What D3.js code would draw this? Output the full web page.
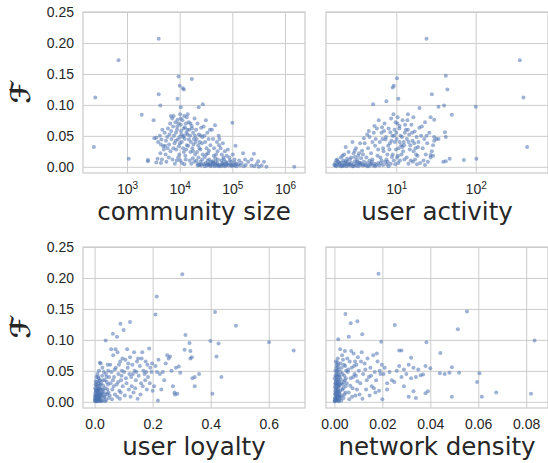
<!DOCTYPE html>
<html>
<head>
<meta charset="utf-8">
<script src="https://cdn.jsdelivr.net/npm/d3@7"></script>
<style>
  body { margin: 0; background: #fff; }
  svg { display: block; font-family: "DejaVu Sans", sans-serif; }
  .grid line { stroke: #cccccc; stroke-width: 1; }
  .grid text { fill: #262626; font-size: 14px; }
</style>
</head>
<body>
<svg id="chart" width="548" height="463"></svg>
<script>
// values: [x, F]
const sizePts = [
  [4000,0.207],[690,0.172],[250,0.112],[235,0.032],[1080,0.013],[1900,0.084],[3200,0.075],[4000,0.117],[4300,0.099],
  [9500,0.146],[17000,0.142],[10000,0.131],[11500,0.127],[12000,0.125],[9100,0.110],[10500,0.096],[23000,0.096],[27500,0.101],
  [100000,0.071],[115000,0.034],[160000,0.022],[257000,0.021],[232000,0.012],[310000,0.009],[400000,0.008],[1500000,0.0],[445000,0.0],
  [2500,0.011],[2500,0.009],[3600,0.007],[4400,0.006],
  [3300,0.046],[3600,0.047],[3900,0.040],[4200,0.050],[4500,0.044],[3800,0.013],[4600,0.012],[4300,0.022],[4900,0.033],[4700,0.060],[5000,0.028],[4400,0.036],
  [5200,0.055],[5500,0.042],[5800,0.048],[6000,0.062],[6300,0.036],[6600,0.070],[5400,0.020],[5900,0.030],[6400,0.052],[6800,0.082],[7000,0.045],[5600,0.008],[6200,0.015],[6700,0.025],[5300,0.034],[6900,0.058],
  [7200,0.078],[7500,0.065],[7800,0.050],[8000,0.038],[8300,0.072],[8600,0.028],[8900,0.060],[9200,0.044],[9500,0.070],[9800,0.020],[7300,0.012],[8100,0.005],[8800,0.010],[9600,0.033],[7700,0.082],[8500,0.055],[9100,0.076],[9900,0.048],[7600,0.030],[9400,0.015],[8400,0.042],
  [10200,0.085],[10500,0.068],[10800,0.052],[11000,0.040],[11300,0.075],[11600,0.030],[11900,0.062],[12200,0.082],[12500,0.045],[12800,0.018],[13100,0.070],[13400,0.055],[13700,0.035],[10300,0.010],[11100,0.006],[12000,0.024],[13000,0.012],[13600,0.080],[10700,0.058],[12600,0.064],[11500,0.048],[13300,0.028],[10100,0.038],[12300,0.004],
  [14200,0.085],[14800,0.072],[15200,0.060],[15800,0.050],[16300,0.040],[16900,0.066],[17400,0.030],[18000,0.055],[18600,0.045],[19200,0.078],[19700,0.020],[14500,0.034],[15500,0.010],[16600,0.005],[17700,0.014],[18900,0.008],[14100,0.052],[16000,0.024],[17200,0.062],[18300,0.036],[19500,0.050],[15000,0.044],
  [20500,0.060],[21000,0.045],[21800,0.070],[22500,0.035],[23200,0.052],[24000,0.040],[24800,0.028],[25600,0.063],[26500,0.038],[27300,0.020],[20800,0.010],[22000,0.005],[23500,0.003],[25000,0.008],[26800,0.012],[21400,0.024],[23800,0.030],[27000,0.048],[22800,0.015],[25300,0.002],
  [28500,0.065],[29500,0.050],[30500,0.040],[31500,0.075],[32500,0.030],[33500,0.055],[34500,0.022],[35500,0.045],[36500,0.012],[37500,0.060],[38500,0.035],[39500,0.008],[29000,0.004],[31000,0.006],[33000,0.002],[35000,0.003],[37000,0.005],[39000,0.001],[30000,0.016],[34000,0.010],[36000,0.026],[32000,0.020],
  [41000,0.060],[43000,0.045],[45000,0.030],[47000,0.067],[49000,0.020],[51000,0.040],[53000,0.012],[55000,0.050],[42000,0.003],[44000,0.005],[46000,0.001],[48000,0.004],[50000,0.002],[52000,0.006],[54000,0.003],[42500,0.009],[47500,0.014],[52500,0.025],[56000,0.035],[44500,0.018],
  [57000,0.045],[60000,0.030],[63000,0.020],[66000,0.038],[69000,0.012],[72000,0.025],[75000,0.008],[78000,0.018],[58000,0.003],[61000,0.001],[64000,0.004],[67000,0.002],[70000,0.005],[73000,0.001],[76000,0.003],[79000,0.006],[62000,0.010],[68000,0.015],
  [82000,0.028],[88000,0.015],[95000,0.008],[102000,0.020],[110000,0.012],[118000,0.005],[85000,0.002],[92000,0.004],[98000,0.001],[105000,0.003],[112000,0.002],[120000,0.001],[90000,0.010],
  [130000,0.004],[140000,0.002],[150000,0.006],[165000,0.001],[180000,0.003],[200000,0.008],[230000,0.002],[260000,0.001],[290000,0.004],[320000,0.0],[360000,0.002],[135000,0.010],[175000,0.012],
  [30000,0.001],[34000,0.005],[38000,0.003],[43000,0.007],[48000,0.008],[55000,0.001],[65000,0.006],[80000,0.004],[95000,0.003],[110000,0.007],
  [26000,0.004],[22000,0.002],[12000,0.050],[14000,0.060],[16000,0.070],[20000,0.040],[25000,0.050],[10500,0.078],[9000,0.065],[18000,0.025]
];

const activityPts = [
  [24,0.207],[360,0.172],[400,0.112],[445,0.032],[42,0.147],[10.2,0.143],[9.3,0.131],[9.0,0.128],[44,0.125],[28,0.117],[7.5,0.106],
  [10.6,0.110],[5.1,0.101],[100,0.097],[34,0.097],[40,0.099],[19.6,0.095],[50,0.084],[27,0.080],[30,0.076],[41,0.056],[42,0.048],
  [24,0.050],[30,0.048],[27,0.019],[29,0.018],[47,0.013],[71,0.011],[102,0.013],[39,0.008],[42,0.009],[23,0.003],[20,0.006],
  [1.65,0.003],[1.7,0.006],[1.75,0.001],[1.8,0.004],[1.85,0.008],[1.9,0.002],[1.95,0.005],[2.0,0.001],[2.05,0.007],[2.1,0.003],[2.15,0.010],[2.2,0.002],[2.25,0.006],[2.3,0.004],[2.35,0.001],[2.4,0.008],[2.45,0.003],[2.5,0.005],[1.8,0.012],[2.0,0.015],[2.2,0.020],[2.4,0.013],[2.3,0.032],[2.1,0.018],[2.5,0.024],
  [2.6,0.002],[2.7,0.006],[2.8,0.001],[2.9,0.004],[3.0,0.009],[3.1,0.002],[3.2,0.005],[3.3,0.001],[3.4,0.007],[3.5,0.003],[3.6,0.005],[3.8,0.002],[3.9,0.008],[2.7,0.015],[2.9,0.022],[3.1,0.030],[3.3,0.018],[3.5,0.038],[3.7,0.026],[3.9,0.046],[2.8,0.040],[3.2,0.012],[3.6,0.014],[3.0,0.026],[3.8,0.020],
  [4.1,0.003],[4.3,0.006],[4.5,0.001],[4.7,0.004],[4.9,0.008],[5.1,0.002],[5.3,0.005],[5.6,0.003],[5.9,0.006],[4.2,0.015],[4.4,0.030],[4.6,0.048],[4.8,0.022],[5.0,0.040],[5.2,0.055],[5.4,0.034],[5.7,0.062],[5.9,0.028],[4.5,0.058],[5.0,0.012],[5.5,0.045],[4.0,0.038],[5.8,0.018],[4.3,0.052],[5.3,0.066],
  [6.1,0.002],[6.4,0.006],[6.8,0.003],[7.2,0.008],[7.6,0.004],[8.0,0.001],[8.5,0.005],[6.2,0.040],[6.5,0.055],[6.8,0.030],[7.1,0.070],[7.4,0.048],[7.7,0.020],[8.0,0.062],[8.3,0.038],[8.6,0.078],[8.9,0.050],[6.3,0.015],[6.9,0.025],[7.5,0.012],[8.2,0.028],[8.8,0.016],[6.6,0.064],[7.3,0.044],[7.9,0.034],[8.4,0.056],[6.0,0.075],[7.0,0.058],[8.7,0.042],[6.7,0.045],
  [9.2,0.085],[9.5,0.060],[9.8,0.072],[10.1,0.045],[10.4,0.080],[10.7,0.030],[11.0,0.066],[11.3,0.050],[11.6,0.020],[12.0,0.075],[12.4,0.040],[12.8,0.055],[9.3,0.010],[9.7,0.004],[10.2,0.015],[10.6,0.006],[11.1,0.010],[11.5,0.035],[12.2,0.025],[12.6,0.012],[9.6,0.040],[10.0,0.055],[10.9,0.062],[11.8,0.048],[9.9,0.028],[10.3,0.070],[11.9,0.032],[12.9,0.068],
  [13.2,0.060],[13.6,0.045],[14.0,0.085],[14.5,0.052],[15.0,0.035],[15.5,0.068],[16.0,0.042],[16.5,0.025],[17.0,0.057],[17.5,0.030],[18.0,0.048],[18.5,0.018],[19.0,0.040],[19.5,0.063],[13.5,0.015],[14.2,0.005],[15.2,0.010],[16.2,0.008],[17.2,0.012],[18.2,0.004],[13.8,0.075],[14.8,0.028],[15.8,0.055],[16.8,0.038],[17.8,0.020],[14.3,0.040],[16.4,0.080],[18.8,0.032],
  [20.5,0.050],[21.5,0.030],[22.5,0.045],[23.5,0.020],[24.5,0.038],[26.0,0.055],[28.0,0.025],[30.0,0.042],[32.0,0.045],[21.0,0.065],[25.0,0.008],[27.0,0.015],[22.0,0.010],[23.0,0.072],[29.0,0.035],[34.0,0.045],
  [1.7,0.002],[1.9,0.007],[2.1,0.001],[2.3,0.009],[2.6,0.004],[2.9,0.001],[3.2,0.008],[3.5,0.006],[3.9,0.003],[4.3,0.001],[4.8,0.005],[5.4,0.001],
  [1.75,0.010],[2.6,0.012],[3.0,0.016],[3.4,0.022],[4.6,0.010],[6.5,0.010],[7.8,0.008],[9.0,0.020],[10.5,0.018],[12.5,0.035],[14.0,0.060],[11.0,0.040],[9.4,0.050]
];

const loyaltyPts = [
  [0.302,0.206],[0.214,0.170],[0.210,0.141],[0.415,0.145],[0.487,0.123],[0.122,0.129],[0.089,0.126],[0.10,0.116],[0.063,0.110],[0.313,0.108],
  [0.077,0.105],[0.038,0.099],[0.399,0.098],[0.601,0.096],[0.686,0.083],[0.427,0.094],[0.327,0.095],[0.42,0.073],[0.31,0.084],[0.33,0.082],
  [0.335,0.072],[0.33,0.070],[0.437,0.040],[0.36,0.045],[0.345,0.040],[0.337,0.038],[0.345,0.025],[0.406,0.013],[0.218,0.002],[0.277,0.012],
  [0.002,0.001],[0.004,0.004],[0.006,0.002],[0.008,0.007],[0.010,0.003],[0.012,0.010],[0.014,0.005],[0.016,0.001],[0.018,0.008],[0.020,0.012],[0.003,0.015],[0.005,0.020],[0.007,0.011],[0.009,0.025],[0.011,0.017],[0.013,0.030],[0.015,0.022],[0.017,0.014],[0.019,0.035],[0.001,0.008],[0.003,0.028],[0.006,0.040],[0.010,0.045],[0.014,0.038],[0.018,0.063],[0.002,0.012],[0.008,0.018],[0.012,0.006],[0.016,0.026],[0.020,0.002],[0.004,0.033],[0.015,0.050],
  [0.022,0.004],[0.025,0.010],[0.028,0.002],[0.031,0.016],[0.034,0.007],[0.037,0.022],[0.040,0.003],[0.043,0.013],[0.046,0.028],[0.049,0.006],[0.023,0.030],[0.026,0.042],[0.029,0.020],[0.032,0.048],[0.035,0.035],[0.038,0.012],[0.041,0.040],[0.044,0.020],[0.047,0.050],[0.024,0.015],[0.030,0.026],[0.036,0.001],[0.042,0.032],[0.048,0.015],[0.027,0.055],[0.033,0.008],[0.039,0.045],[0.045,0.060],[0.021,0.062],[0.050,0.040],
  [0.052,0.010],[0.055,0.030],[0.058,0.048],[0.061,0.020],[0.064,0.075],[0.067,0.040],[0.070,0.012],[0.073,0.055],[0.076,0.028],[0.079,0.080],[0.082,0.045],[0.085,0.018],[0.088,0.065],[0.091,0.035],[0.094,0.050],[0.097,0.025],[0.054,0.060],[0.060,0.004],[0.066,0.025],[0.072,0.085],[0.078,0.008],[0.084,0.060],[0.090,0.015],[0.096,0.070],[0.057,0.085],[0.069,0.052],[0.081,0.032],[0.093,0.042],[0.063,0.035],[0.087,0.005],
  [0.102,0.048],[0.106,0.068],[0.110,0.030],[0.114,0.055],[0.118,0.020],[0.122,0.072],[0.126,0.040],[0.130,0.060],[0.134,0.015],[0.138,0.050],[0.142,0.035],[0.146,0.065],[0.104,0.010],[0.112,0.085],[0.120,0.045],[0.128,0.025],[0.136,0.080],[0.144,0.048],[0.148,0.005],[0.108,0.038],[0.116,0.062],[0.124,0.008],[0.132,0.045],[0.140,0.022],[0.150,0.070],
  [0.152,0.042],[0.156,0.058],[0.160,0.030],[0.164,0.080],[0.168,0.050],[0.172,0.045],[0.176,0.065],[0.180,0.020],[0.184,0.040],[0.188,0.086],[0.192,0.055],[0.196,0.048],[0.158,0.012],[0.166,0.025],[0.174,0.035],[0.182,0.060],[0.190,0.030],[0.198,0.062],[0.162,0.070],[0.178,0.048],
  [0.205,0.025],[0.21,0.058],[0.215,0.048],[0.22,0.068],[0.225,0.045],[0.23,0.020],[0.24,0.035],[0.245,0.062],[0.25,0.075],[0.255,0.070],[0.26,0.073],[0.265,0.050],[0.27,0.025],[0.275,0.015],[0.28,0.055],[0.29,0.057],[0.295,0.047],[0.2,0.018],[0.235,0.048],[0.285,0.013],
  [0.001,0.002],[0.003,0.006],[0.005,0.009],[0.007,0.001],[0.009,0.013],[0.011,0.004],[0.013,0.019],[0.015,0.012],[0.017,0.006],[0.019,0.022],[0.021,0.009],[0.023,0.001],[0.025,0.020],[0.027,0.013],[0.029,0.035],
  [0.002,0.022],[0.004,0.018],[0.006,0.027],[0.008,0.032],[0.010,0.021],[0.012,0.040],[0.014,0.015],[0.016,0.034],[0.018,0.019],[0.020,0.028],[0.006,0.005],[0.010,0.009],[0.002,0.004],[0.008,0.001],[0.012,0.002]
];

const densityPts = [
  [0.0184,0.207],[0.0553,0.146],[0.0046,0.142],[0.0096,0.130],[0.0068,0.127],[0.0252,0.124],[0.0116,0.109],[0.0515,0.117],[0.006,0.105],
  [0.0016,0.101],[0.0195,0.097],[0.0384,0.096],[0.0835,0.099],[0.0442,0.079],[0.032,0.071],[0.028,0.083],[0.027,0.083],[0.049,0.056],
  [0.040,0.054],[0.044,0.046],[0.046,0.045],[0.048,0.047],[0.052,0.047],[0.0605,0.046],[0.0595,0.032],[0.049,0.008],[0.0615,0.008],
  [0.0675,0.015],[0.082,0.013],[0.038,0.014],[0.039,0.017],[0.033,0.017],[0.031,0.008],[0.034,0.006],[0.020,0.004],
  [0.0002,0.001],[0.0004,0.005],[0.0006,0.010],[0.0008,0.003],[0.0010,0.015],[0.0012,0.008],[0.0014,0.020],[0.0016,0.002],[0.0018,0.012],[0.0020,0.025],[0.0003,0.018],[0.0005,0.030],[0.0007,0.022],[0.0009,0.035],[0.0011,0.006],[0.0013,0.040],[0.0015,0.028],[0.0017,0.045],[0.0019,0.016],[0.0001,0.038],[0.0004,0.050],[0.0008,0.055],[0.0012,0.032],[0.0016,0.060],[0.0020,0.042],[0.0006,0.065],[0.0010,0.048],[0.0014,0.070],[0.0018,0.052],[0.0003,0.013],[0.0007,0.004],[0.0011,0.026],[0.0015,0.009],[0.0019,0.001],
  [0.0022,0.005],[0.0025,0.018],[0.0028,0.030],[0.0031,0.010],[0.0034,0.045],[0.0037,0.022],[0.0040,0.060],[0.0043,0.035],[0.0046,0.015],[0.0049,0.050],[0.0023,0.040],[0.0026,0.062],[0.0029,0.002],[0.0032,0.075],[0.0035,0.028],[0.0038,0.006],[0.0041,0.042],[0.0044,0.082],[0.0047,0.025],[0.0024,0.085],[0.0030,0.055],[0.0036,0.068],[0.0042,0.012],[0.0048,0.038],[0.0027,0.048],[0.0033,0.020],[0.0039,0.032],[0.0045,0.058],
  [0.0052,0.030],[0.0056,0.048],[0.0060,0.015],[0.0064,0.065],[0.0068,0.038],[0.0072,0.055],[0.0076,0.022],[0.0080,0.078],[0.0084,0.045],[0.0088,0.010],[0.0092,0.060],[0.0096,0.033],[0.0054,0.070],[0.0062,0.004],[0.0070,0.082],[0.0078,0.040],[0.0086,0.065],[0.0094,0.020],[0.0058,0.052],[0.0066,0.026],[0.0074,0.008],[0.0082,0.058],[0.0090,0.042],[0.0098,0.072],
  [0.0102,0.050],[0.0108,0.030],[0.0114,0.080],[0.0120,0.045],[0.0126,0.062],[0.0132,0.020],[0.0138,0.070],[0.0144,0.040],[0.0150,0.055],[0.0156,0.025],[0.0162,0.075],[0.0168,0.048],[0.0174,0.035],[0.0180,0.065],[0.0186,0.018],[0.0192,0.045],[0.0198,0.060],[0.0105,0.012],[0.0117,0.005],[0.0135,0.035],[0.0147,0.010],[0.0165,0.022],[0.0177,0.078],[0.0189,0.050],[0.0111,0.065],[0.0129,0.052],[0.0153,0.042],[0.0171,0.015],
  [0.0205,0.045],[0.021,0.055],[0.022,0.030],[0.023,0.048],[0.024,0.035],[0.026,0.050],[0.027,0.058],[0.028,0.040],[0.029,0.025],[0.030,0.045],[0.031,0.060],[0.033,0.055],[0.034,0.040],[0.035,0.052],[0.036,0.043],[0.037,0.044],[0.038,0.058],[0.025,0.032],[0.032,0.038],[0.022,0.020],[0.029,0.052],
  [0.0001,0.003],[0.0003,0.007],[0.0005,0.012],[0.0007,0.016],[0.0009,0.021],[0.0011,0.002],[0.0013,0.011],[0.0015,0.017],[0.0017,0.024],[0.0019,0.033],[0.0021,0.013],[0.0023,0.028],[0.0025,0.008],[0.0027,0.036],[0.0002,0.024],
  [0.0004,0.029],[0.0006,0.034],[0.0008,0.040],[0.0010,0.044],[0.0012,0.050],[0.0014,0.056],[0.0016,0.036],[0.0018,0.030],[0.0020,0.007],[0.0005,0.043],[0.0009,0.060],[0.0013,0.064],[0.0003,0.001],[0.0011,0.018],[0.0007,0.027]
];

const yTicks = [0, 0.05, 0.10, 0.15, 0.20, 0.25];
const sizeTicks = [1e3, 1e4, 1e5, 1e6];
const activityTicks = [1e1, 1e2];
const loyaltyTicks = [0.0, 0.2, 0.4, 0.6];
const densityTicks = [0.00, 0.02, 0.04, 0.06, 0.08];
const xLabels = ["community size", "user activity", "user loyalty", "network density"];

const svg = d3.select("#chart");
const colL = 83, colR = 326, w = 222;
const rowT = 12, rowB = 247, h = 161;

const panels = [
  {pts: sizePts, log: true, dom: [146, 2.4e6], ticks: sizeTicks, left: colL, top: rowT, label: xLabels[0], showY: true},
  {pts: activityPts, log: true, dom: [1.3, 815], ticks: activityTicks, left: colR, top: rowT, label: xLabels[1], showY: false},
  {pts: loyaltyPts, log: false, dom: [-0.04, 0.725], ticks: loyaltyTicks, fmt: d3.format(".1f"), left: colL, top: rowB, label: xLabels[2], showY: true},
  {pts: densityPts, log: false, dom: [-0.0035, 0.0891], ticks: densityTicks, fmt: d3.format(".2f"), left: colR, top: rowB, label: xLabels[3], showY: false}
];

panels.forEach(p => {
  const g = svg.append("g").attr("transform", "translate(" + p.left + "," + p.top + ")");
  const x = (p.log ? d3.scaleLog() : d3.scaleLinear()).domain(p.dom).range([0, w]);
  const y = d3.scaleLinear().domain([-0.01, 0.25]).range([h, 0]);

  const yAxis = d3.axisLeft(y).tickValues(yTicks).tickSize(-w).tickPadding(9)
    .tickFormat(p.showY ? d3.format(".2f") : "");
  g.append("g").attr("class", "grid").call(yAxis);

  const xAxis = d3.axisBottom(x).tickValues(p.ticks).tickSize(-h).tickPadding(p.log ? 11 : 11);
  const xg = g.append("g").attr("class", "grid").attr("transform", "translate(0," + h + ")").call(xAxis);
  if (p.log) {
    xg.selectAll(".tick text").each(function(d) {
      const e = Math.round(Math.log10(d));
      const t = d3.select(this).text("10");
      t.append("tspan").attr("dy", "-0.45em").style("font-size", "10px").text(e);
    });
  } else {
    xg.selectAll(".tick text").text(p.fmt);
  }
  g.selectAll(".domain").remove();

  g.append("rect").attr("width", w).attr("height", h)
    .attr("fill", "none").attr("stroke", "#cccccc").attr("stroke-width", 1.25);

  g.append("g").selectAll("circle").data(p.pts).join("circle")
    .attr("cx", d => x(d[0])).attr("cy", d => y(d[1])).attr("r", 2)
    .attr("fill", "#4c72b0").attr("fill-opacity", 0.55);

  g.append("text").attr("x", w / 2).attr("y", h + 47).attr("text-anchor", "middle")
    .attr("fill", "#262626").style("font-size", "24.5px").text(p.label);

  if (p.showY) {
    g.append("text").attr("transform", "translate(-62," + (h / 2) + ") rotate(-90)")
      .attr("text-anchor", "middle").attr("dy", "0.35em")
      .attr("fill", "#262626").style("font-size", "27px").style("font-weight", "bold")
      .text("ℱ");
  }
});
</script>
</body>
</html>
